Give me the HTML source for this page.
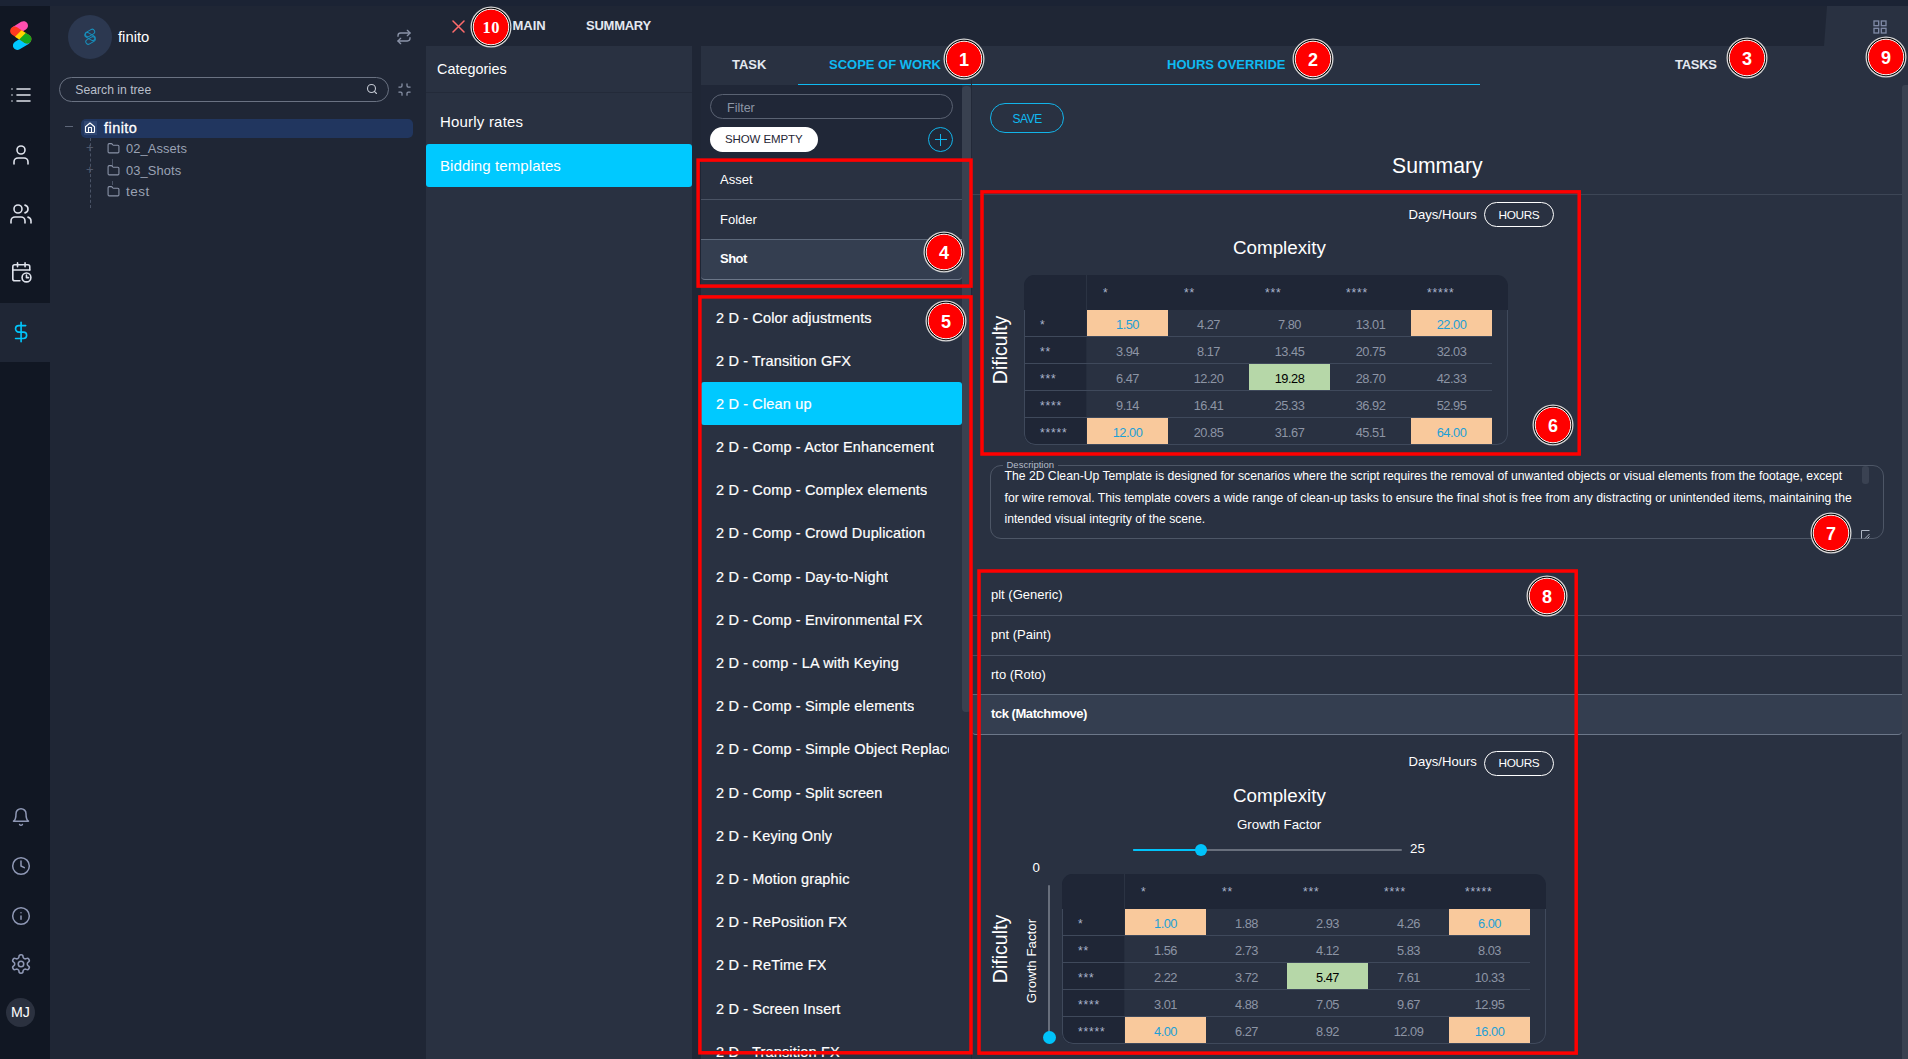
<!DOCTYPE html>
<html lang="en">
<head>
<meta charset="utf-8">
<title>Bidding templates</title>
<style>
*{box-sizing:border-box;margin:0;padding:0}
html,body{width:1908px;height:1059px;overflow:hidden;background:#1f2635;font-family:"Liberation Sans",sans-serif;color:#fff}
.abs{position:absolute}
#root{position:relative;width:1908px;height:1059px;overflow:hidden;background:#1f2635}
.topstrip{left:0;top:0;width:1908px;height:6px;background:#1b2334}
.sidebar{left:0;top:6px;width:50px;height:1053px;background:#111723}
.sideactive{left:0;top:303px;width:50px;height:59px;background:#1f2635}
.tree{left:50px;top:6px;width:376px;height:1053px;background:#1f2635}
.panel{background:#293141}
.t{position:absolute;white-space:nowrap;line-height:1}
.badge{position:absolute;width:41px;height:41px;border-radius:50%;border:1.3px solid #d9d9d9;padding:.9px;background:#000}
.badge i{display:block;width:36.6px;height:36.6px;border-radius:50%;border:1px solid #fff;background:#fe0000;font:bold 18px/36.5px "Liberation Sans",sans-serif;text-align:center;color:#fff;font-style:normal}
.redbox{position:absolute;border:3px solid #f00000}
.hline{position:absolute;height:1px;background:#3d4656}
</style>
</head>
<body>
<div id="root">
<div class="abs topstrip"></div>
<div class="abs sidebar"></div>
<div class="abs sideactive"></div>
<div class="abs tree"></div>


<svg width="0" height="0" style="position:absolute">
<defs>
<symbol id="i-list" viewBox="0 0 24 24"><path d="M8 6h13M8 12h13M8 18h13M3 6h.01M3 12h.01M3 18h.01"/></symbol>
<symbol id="i-user" viewBox="0 0 24 24"><path d="M19 21v-2a4 4 0 0 0-4-4H9a4 4 0 0 0-4 4v2"/><circle cx="12" cy="7" r="4"/></symbol>
<symbol id="i-users" viewBox="0 0 24 24"><path d="M16 21v-2a4 4 0 0 0-4-4H6a4 4 0 0 0-4 4v2"/><circle cx="9" cy="7" r="4"/><path d="M22 21v-2a4 4 0 0 0-3-3.87"/><path d="M16 3.13a4 4 0 0 1 0 7.75"/></symbol>
<symbol id="i-cal" viewBox="0 0 24 24"><path d="M21 9.5V6a2 2 0 0 0-2-2H5a2 2 0 0 0-2 2v13a2 2 0 0 0 2 2h5.5"/><path d="M16 2v4M8 2v4M3 9.5h18"/><circle cx="17.5" cy="17.5" r="4.7"/><path d="M17.5 15v2.7h2.2"/></symbol>
<symbol id="i-dollar" viewBox="0 0 24 24"><path d="M12 1.5v21"/><path d="M17 5H9.5a3.5 3.5 0 0 0 0 7h5a3.5 3.5 0 0 1 0 7H6"/></symbol>
<symbol id="i-bell" viewBox="0 0 24 24"><path d="M6 8a6 6 0 0 1 12 0c0 7 3 9 3 9H3s3-2 3-9"/><path d="M10.3 21a1.94 1.94 0 0 0 3.4 0"/></symbol>
<symbol id="i-clock" viewBox="0 0 24 24"><circle cx="12" cy="12" r="10"/><path d="M12 6v6l4 2"/></symbol>
<symbol id="i-info" viewBox="0 0 24 24"><circle cx="12" cy="12" r="10"/><path d="M12 16v-4M12 8h.01"/></symbol>
<symbol id="i-gear" viewBox="0 0 24 24"><path d="M12.22 2h-.44a2 2 0 0 0-2 2v.18a2 2 0 0 1-1 1.73l-.43.25a2 2 0 0 1-2 0l-.15-.08a2 2 0 0 0-2.73.73l-.22.38a2 2 0 0 0 .73 2.73l.15.1a2 2 0 0 1 1 1.72v.51a2 2 0 0 1-1 1.74l-.15.09a2 2 0 0 0-.73 2.73l.22.38a2 2 0 0 0 2.73.73l.15-.08a2 2 0 0 1 2 0l.43.25a2 2 0 0 1 1 1.73V20a2 2 0 0 0 2 2h.44a2 2 0 0 0 2-2v-.18a2 2 0 0 1 1-1.73l.43-.25a2 2 0 0 1 2 0l.15.08a2 2 0 0 0 2.73-.73l.22-.39a2 2 0 0 0-.73-2.73l-.15-.08a2 2 0 0 1-1-1.74v-.5a2 2 0 0 1 1-1.74l.15-.09a2 2 0 0 0 .73-2.73l-.22-.38a2 2 0 0 0-2.73-.73l-.15.08a2 2 0 0 1-2 0l-.43-.25a2 2 0 0 1-1-1.73V4a2 2 0 0 0-2-2z"/><circle cx="12" cy="12" r="3"/></symbol>
<symbol id="i-repeat" viewBox="0 0 24 24"><path d="m17 2 4 4-4 4"/><path d="M3 11v-1a4 4 0 0 1 4-4h14"/><path d="m7 22-4-4 4-4"/><path d="M21 13v1a4 4 0 0 1-4 4H3"/></symbol>
<symbol id="i-search" viewBox="0 0 24 24"><circle cx="11" cy="11" r="8"/><path d="m21 21-4.3-4.3"/></symbol>
<symbol id="i-min" viewBox="0 0 24 24"><path d="M8 3v3a2 2 0 0 1-2 2H3"/><path d="M21 8h-3a2 2 0 0 1-2-2V3"/><path d="M3 16h3a2 2 0 0 1 2 2v3"/><path d="M16 21v-3a2 2 0 0 1 2-2h3"/></symbol>
<symbol id="i-home" viewBox="0 0 24 24"><path d="M3 10.5 12 3l9 7.500V20a2 2 0 0 1-2 2H5a2 2 0 0 1-2-2z"/><path d="M9 22V12h6v10"/></symbol>
<symbol id="i-folder" viewBox="0 0 24 24"><path d="M20 20a2 2 0 0 0 2-2V8a2 2 0 0 0-2-2h-7.900a2 2 0 0 1-1.690-.9L9.600 3.900A2 2 0 0 0 7.930 3H4a2 2 0 0 0-2 2v13a2 2 0 0 0 2 2Z"/></symbol>
<symbol id="i-grid" viewBox="0 0 24 24"><rect x="3" y="3" width="7" height="7"/><rect x="14" y="3" width="7" height="7"/><rect x="14" y="14" width="7" height="7"/><rect x="3" y="14" width="7" height="7"/></symbol>
</defs>
</svg>
<style>
.ic{position:absolute;fill:none;stroke-linecap:round;stroke-linejoin:round}
</style>
<!-- logo -->
<svg class="abs" style="left:6px;top:18px" width="30" height="36" viewBox="6 18 30 36">
<g stroke-linecap="round" stroke-width="9" fill="none">
<path d="M15.5 30.600 L23.500 25.700" stroke="#ff4fb0"/>
<path d="M17.400 45.500 L26.300 40.200" stroke="#00c8ff"/>
<path d="M14.600 31 L27 39" stroke="#ff3a20"/>
</g>
<clipPath id="lgc"><path d="M14.600 31 L27 39" stroke="#000" stroke-width="9" stroke-linecap="round"/></clipPath>
<path d="M27 39 m-4.500 0 a4.500 4.500 0 1 0 9 0 a4.500 4.500 0 1 0 -9 0" fill="#14a81c"/>
<path d="M20.300 29.400 L29.400 35.200 L24.600 43.100 L15.500 37.300 Z" fill="#14a81c" opacity="0"/>
<g stroke-linecap="butt" stroke-width="9" fill="none">
<path d="M21.500 35.450 L27 39" stroke="#14a81c"/>
</g>
<path d="M19.300 28.900 L25.800 33 L19.600 39.700 L13.100 35.600 Z" fill="#ffd400" opacity="0"/>
<path d="M21.500 30.200 L25.700 32.900 L19.200 39.400 L15 36.700 Z" fill="#ffd400"/>
</svg>
<svg class="ic" style="left:9px;top:82.5px;stroke:#dfe3ec;stroke-width:1.6" width="24" height="24"><use href="#i-list"/></svg>
<svg class="ic" style="left:9px;top:143px;stroke:#dfe3ec;stroke-width:1.6" width="24" height="24"><use href="#i-user"/></svg>
<svg class="ic" style="left:8.6px;top:202px;stroke:#dfe3ec;stroke-width:1.6" width="24" height="24"><use href="#i-users"/></svg>
<svg class="ic" style="left:9.7px;top:261.3px;stroke:#dfe3ec;stroke-width:1.7" width="22.6" height="22.6"><use href="#i-cal"/></svg>
<svg class="ic" style="left:9.6px;top:321.4px;stroke:#00c6fc;stroke-width:1.75" width="22.2" height="22.2"><use href="#i-dollar"/></svg>
<svg class="ic" style="left:10.5px;top:807.2px;stroke:#8f98b5;stroke-width:1.8" width="20" height="20"><use href="#i-bell"/></svg>
<svg class="ic" style="left:10.7px;top:855.6px;stroke:#8f98b5;stroke-width:1.8" width="20" height="20"><use href="#i-clock"/></svg>
<svg class="ic" style="left:10.7px;top:905.7px;stroke:#8f98b5;stroke-width:1.8" width="20" height="20"><use href="#i-info"/></svg>
<svg class="ic" style="left:9.7px;top:953.4px;stroke:#8f98b5;stroke-width:1.7" width="22" height="22"><use href="#i-gear"/></svg>
<div class="abs" style="left:6px;top:998px;width:29px;height:29px;border-radius:50%;background:#2b313f"></div>
<div class="t" style="left:11px;top:1005px;font-size:14.2px;color:#fff">MJ</div>


<div class="abs" style="left:68px;top:14.5px;width:44px;height:44px;border-radius:50%;background:#2c3850"></div>
<svg class="abs" style="left:82px;top:28px" width="16" height="17" viewBox="0 0 16 17" fill="none" stroke="#1790bd" stroke-width="1">
<rect x="3" y="2.5" width="10" height="5" rx="2.5" transform="rotate(-30 8 5)"/>
<rect x="2.500" y="6" width="11" height="5" rx="2.500" transform="rotate(30 8 8.500)"/>
<rect x="3.500" y="10" width="10" height="5" rx="2.500" transform="rotate(-30 8.500 12.500)"/>
</svg>
<div class="t" style="left:118px;top:29.5px;font-size:14.8px;color:#fff">finito</div>
<svg class="ic" style="left:396px;top:29px;stroke:#8a93a8;stroke-width:2" width="16" height="16"><use href="#i-repeat"/></svg>
<div class="abs" style="left:59px;top:77px;width:330px;height:25px;border:1px solid #6a7282;border-radius:13px"></div>
<div class="t" style="left:75.3px;top:84px;font-size:12.2px;color:#b9bfca">Search in tree</div>
<svg class="ic" style="left:366px;top:83px;stroke:#c3c8d2;stroke-width:2.2" width="12" height="12"><use href="#i-search"/></svg>
<svg class="ic" style="left:397px;top:82px;stroke:#8a93a8;stroke-width:2" width="15" height="15"><use href="#i-min"/></svg>
<!-- tree rows -->
<div class="abs" style="left:81px;top:119px;width:332px;height:19px;border-radius:5px;background:#21365f"></div>
<div class="abs" style="left:84px;top:121px;width:13px;height:14px;background:#2f4672"></div>
<div class="abs" style="left:65px;top:126px;width:8px;height:1px;background:#5d6678"></div>
<svg class="ic" style="left:84px;top:121px;stroke:#fff;stroke-width:2.2" width="12" height="13"><use href="#i-home"/></svg>
<div class="t" style="left:104px;top:120.5px;font-size:14.5px;color:#fff;letter-spacing:.45px;-webkit-text-stroke:.3px #fff">finito</div>
<div class="abs" style="left:90px;top:138px;width:0;height:70px;border-left:1px dashed #4a5366"></div>
<div class="abs" style="left:112px;top:159px;width:0;height:8px;border-left:1px solid #4a5366"></div>
<div class="abs" style="left:112px;top:181px;width:0;height:4px;border-left:1px solid #4a5366"></div>
<div class="t" style="left:86px;top:141px;font-size:13px;color:#4f586b">+</div>
<div class="t" style="left:86px;top:163px;font-size:13px;color:#4f586b">+</div>
<svg class="ic" style="left:107px;top:142px;stroke:#8a93a8;stroke-width:2" width="13" height="13"><use href="#i-folder"/></svg>
<svg class="ic" style="left:107px;top:164px;stroke:#8a93a8;stroke-width:2" width="13" height="13"><use href="#i-folder"/></svg>
<svg class="ic" style="left:107px;top:185px;stroke:#8a93a8;stroke-width:2" width="13" height="13"><use href="#i-folder"/></svg>
<div class="t" style="left:126px;top:142.7px;font-size:12.9px;color:#9aa2b4;letter-spacing:.1px">02_Assets</div>
<div class="t" style="left:126px;top:164.5px;font-size:12.9px;color:#9aa2b4;letter-spacing:.1px">03_Shots</div>
<div class="t" style="left:126px;top:185px;font-size:13.5px;color:#9aa2b4;letter-spacing:.5px">test</div>


<svg class="abs" style="left:452px;top:20px" width="13" height="13" viewBox="0 0 13 13" fill="none" stroke="#ff6b6b" stroke-width="1.5" stroke-linecap="round"><path d="M1 1 L12 12 M12 1 L1 12"/></svg>
<div class="t" style="left:512.5px;top:19px;font-size:13px;font-weight:bold;color:#e4e8f0">MAIN</div>
<div class="t" style="left:586px;top:19px;font-size:13px;font-weight:bold;letter-spacing:-.25px;color:#e4e8f0">SUMMARY</div>
<svg class="abs" style="left:1820px;top:6px" width="88" height="40"><polygon points="7,0 88,0 88,40 4,40" fill="#293141"/></svg>
<svg class="ic" style="left:1872px;top:19px;stroke:#7f89a6;stroke-width:2;stroke-linejoin:miter" width="16" height="16"><use href="#i-grid"/></svg>


<div class="abs panel" style="left:426px;top:46px;width:266px;height:1013px"></div>
<div class="t" style="left:437px;top:61.5px;font-size:14.4px;color:#fff">Categories</div>
<div class="hline" style="left:426px;top:92px;width:266px;background:#232a39"></div>
<div class="t" style="left:440px;top:114px;font-size:15px;color:#fff;letter-spacing:.2px">Hourly rates</div>
<div class="abs" style="left:426px;top:144px;width:266px;height:43px;border-radius:3px;background:#00c9ff"></div>
<div class="t" style="left:440px;top:158px;font-size:15px;color:#fff;letter-spacing:.1px">Bidding templates</div>


<style>.li{left:716px;font-size:14.5px;color:#fff;-webkit-text-stroke:.2px #fff;max-width:233px;overflow:hidden;letter-spacing:.15px;height:17px;line-height:17px}</style>
<div class="abs panel" style="left:701px;top:46px;width:1207px;height:1013px"></div>
<div class="abs" style="left:701px;top:85px;width:261px;height:75px;background:#202737"></div>
<div class="t" style="left:732px;top:58px;font-size:13px;font-weight:bold;color:#e4e8f0">TASK</div>
<div class="t" style="left:829px;top:58px;font-size:13px;font-weight:bold;color:#0fbaf2">SCOPE OF WORK</div>
<div class="t" style="left:1167px;top:58px;font-size:13px;font-weight:bold;color:#0fbaf2">HOURS OVERRIDE</div>
<div class="t" style="left:1675px;top:58px;font-size:13px;font-weight:bold;letter-spacing:-.3px;color:#e4e8f0">TASKS</div>
<div class="abs" style="left:798px;top:84px;width:682px;height:1px;background:#0fbaf2"></div>
<div class="abs" style="left:710px;top:94px;width:243px;height:25px;border:1px solid #5a6272;border-radius:13px"></div>
<div class="t" style="left:727px;top:102px;font-size:12.5px;color:#8d96a6">Filter</div>
<div class="abs" style="left:710px;top:127px;width:108px;height:25px;border-radius:13px;background:#fff"></div>
<div class="t" style="left:725px;top:134.2px;font-size:11.5px;color:#1f2635;letter-spacing:-.1px">SHOW EMPTY</div>
<div class="abs" style="left:928px;top:127px;width:25px;height:25px;border-radius:50%;border:1px solid #12b4ea"></div>
<div class="abs" style="left:934.500px;top:139px;width:12px;height:1.300px;background:#12b4ea"></div>
<div class="abs" style="left:939.800px;top:133.500px;width:1.300px;height:12px;background:#12b4ea"></div>
<!-- scrollbar mid -->
<div class="abs" style="left:962px;top:85.5px;width:9px;height:626px;background:#394150;border-radius:4px"></div>
<div class="abs" style="left:971px;top:79px;width:1px;height:980px;background:#222938"></div>
<!-- Asset/Folder/Shot -->
<div class="abs" style="left:701px;top:239px;width:261px;height:41px;background:#343e50;border-bottom:1px solid #6b7688;border-radius:0 0 4px 4px"></div>
<div class="hline" style="left:701px;top:199px;width:261px;background:#4a5364"></div>
<div class="hline" style="left:701px;top:239px;width:261px;background:#5d697b"></div>

<div class="t" style="left:720px;top:173px;font-size:13px;color:#fff">Asset</div>
<div class="t" style="left:720px;top:213px;font-size:13px;color:#fff">Folder</div>
<div class="t" style="left:720px;top:251.500px;font-size:13px;color:#fff;font-weight:bold;letter-spacing:-.5px">Shot</div>
<div class="abs" style="left:701px;top:382px;width:261px;height:43px;border-radius:3px;background:#00c9ff"></div>
<div class="t li" style="top:310px">2 D - Color adjustments</div>
<div class="t li" style="top:353px">2 D - Transition GFX</div>
<div class="t li" style="top:396px">2 D - Clean up</div>
<div class="t li" style="top:439px">2 D - Comp - Actor Enhancement</div>
<div class="t li" style="top:482px">2 D - Comp - Complex elements</div>
<div class="t li" style="top:525px">2 D - Comp - Crowd Duplication</div>
<div class="t li" style="top:569px">2 D - Comp - Day-to-Night</div>
<div class="t li" style="top:612px">2 D - Comp - Environmental FX</div>
<div class="t li" style="top:655px">2 D - comp - LA with Keying</div>
<div class="t li" style="top:698px">2 D - Comp - Simple elements</div>
<div class="t li" style="top:741px">2 D - Comp - Simple Object Replace</div>
<div class="t li" style="top:785px">2 D - Comp - Split screen</div>
<div class="t li" style="top:828px">2 D - Keying Only</div>
<div class="t li" style="top:871px">2 D - Motion graphic</div>
<div class="t li" style="top:914px">2 D - RePosition FX</div>
<div class="t li" style="top:957px">2 D - ReTime FX</div>
<div class="t li" style="top:1001px">2 D - Screen Insert</div>
<div class="t li" style="top:1044px">2 D - Transition FX</div>



<style>
.tb{border-radius:11px;overflow:hidden}
.st{font-size:12px;color:#aab4cc;letter-spacing:.8px}
.cv{width:81px;height:26px;line-height:29.5px;text-align:center;font-size:12.8px;color:#8d95a5;letter-spacing:-.5px}
.cv.or{background:#f9c99c;color:#1e9fd6}
.cv.gr{background:#b6d7a8;color:#000}
.vt{position:absolute;white-space:nowrap;transform:translate(-50%,-50%) rotate(-90deg);line-height:1}
.row{left:991px;font-size:13px;color:#fff}
</style>
<div class="abs" style="left:990px;top:103px;width:74px;height:30px;border:1px solid #12b4ea;border-radius:15px"></div>
<div class="t" style="left:1012.5px;top:113px;font-size:12px;color:#0fbaf2;letter-spacing:-.45px">SAVE</div>
<div class="t" style="left:1392px;top:154.7px;font-size:21.2px;color:#fff">Summary</div>
<div class="hline" style="left:972px;top:194px;width:930px"></div>
<!-- section 1 -->
<div class="t" style="left:1408.5px;top:207.8px;font-size:13.1px;color:#fff">Days/Hours</div>
<div class="abs" style="left:1484px;top:202px;width:70px;height:25px;border:1px solid #fff;border-radius:13px"></div>
<div class="t" style="left:1498.5px;top:210px;font-size:11.8px;color:#fff;letter-spacing:-.35px">HOURS</div>
<div class="t" style="left:1233px;top:238.5px;font-size:18.8px;color:#fff">Complexity</div>
<div class="vt" style="left:1000.5px;top:350px;font-size:19.5px">Dificulty</div>
<div class="abs tb" style="left:1024px;top:275px;width:484px;height:170px"><div class="abs" style="left:0;top:0;width:484px;height:35px;background:#1f2636"></div><div class="abs" style="left:0;top:0;width:62px;height:170px;background:#1f2636"></div><div class="abs" style="left:62px;top:0;width:1px;height:35px;background:#2b3343"></div><div class="abs" style="left:62px;top:35px;width:1px;height:135px;background:#252d3d"></div><div class="abs" style="left:0;top:34.5px;width:484px;height:135.5px;border:1px solid #3f495b;border-top:none;border-radius:0 0 11px 11px"></div><div class="t st" style="left:79px;top:11.5px">*</div><div class="t st" style="left:16px;top:43.5px">*</div><div class="t st" style="left:160px;top:11.5px">**</div><div class="t st" style="left:16px;top:70.5px">**</div><div class="t st" style="left:241px;top:11.5px">***</div><div class="t st" style="left:16px;top:97.5px">***</div><div class="t st" style="left:322px;top:11.5px">****</div><div class="t st" style="left:16px;top:124.5px">****</div><div class="t st" style="left:403px;top:11.5px">*****</div><div class="t st" style="left:16px;top:151.5px">*****</div><div class="abs" style="left:1px;top:61px;width:467px;height:1px;background:#3f495b"></div><div class="abs cv or" style="left:63px;top:35px">1.50</div><div class="abs cv" style="left:144px;top:35px">4.27</div><div class="abs cv" style="left:225px;top:35px">7.80</div><div class="abs cv" style="left:306px;top:35px">13.01</div><div class="abs cv or" style="left:387px;top:35px">22.00</div><div class="abs" style="left:1px;top:88px;width:467px;height:1px;background:#3f495b"></div><div class="abs cv" style="left:63px;top:62px">3.94</div><div class="abs cv" style="left:144px;top:62px">8.17</div><div class="abs cv" style="left:225px;top:62px">13.45</div><div class="abs cv" style="left:306px;top:62px">20.75</div><div class="abs cv" style="left:387px;top:62px">32.03</div><div class="abs" style="left:1px;top:115px;width:467px;height:1px;background:#3f495b"></div><div class="abs cv" style="left:63px;top:89px">6.47</div><div class="abs cv" style="left:144px;top:89px">12.20</div><div class="abs cv gr" style="left:225px;top:89px">19.28</div><div class="abs cv" style="left:306px;top:89px">28.70</div><div class="abs cv" style="left:387px;top:89px">42.33</div><div class="abs" style="left:1px;top:142px;width:467px;height:1px;background:#3f495b"></div><div class="abs cv" style="left:63px;top:116px">9.14</div><div class="abs cv" style="left:144px;top:116px">16.41</div><div class="abs cv" style="left:225px;top:116px">25.33</div><div class="abs cv" style="left:306px;top:116px">36.92</div><div class="abs cv" style="left:387px;top:116px">52.95</div><div class="abs cv or" style="left:63px;top:143px">12.00</div><div class="abs cv" style="left:144px;top:143px">20.85</div><div class="abs cv" style="left:225px;top:143px">31.67</div><div class="abs cv" style="left:306px;top:143px">45.51</div><div class="abs cv or" style="left:387px;top:143px">64.00</div></div>
<!-- description -->
<div class="abs" style="left:990px;top:465px;width:893.5px;height:74px;border:1px solid #4d5666;border-radius:11px"></div>
<div class="abs" style="left:1003px;top:460px;width:55px;height:10px;background:#293141"></div>
<div class="t" style="left:1006.5px;top:460px;font-size:9.5px;color:#b4bcca">Description</div>
<div class="abs" style="left:1004.5px;top:466px;width:870px;font-size:12.2px;line-height:21.5px;color:#fff;white-space:nowrap">The 2D Clean-Up Template is designed for scenarios where the script requires the removal of unwanted objects or visual elements from the footage, except<br>for wire removal. This template covers a wide range of clean-up tasks to ensure the final shot is free from any distracting or unintended items, maintaining the<br>intended visual integrity of the scene.</div>
<div class="abs" style="left:1862px;top:466px;width:7px;height:18px;border-radius:3px;background:#3a4252"></div>
<svg class="abs" style="left:1861px;top:530px" width="9" height="9" fill="none" stroke="#aeb6c4" stroke-width="1"><path d="M8.5 .5H.5V8.5"/><path d="M4 8.5 8.5 4M6.5 8.5 8.5 6.5"/></svg>
<!-- rows -->
<div class="abs" style="left:972px;top:694px;width:930px;height:41px;background:#343e50;border-top:1px solid #5f6b7d;border-bottom:1px solid #6c7789;border-radius:0 0 4px 4px"></div>
<div class="hline" style="left:972px;top:615px;width:930px;background:#485162"></div>
<div class="hline" style="left:972px;top:654.5px;width:930px;background:#485162"></div>
<div class="t row" style="top:588px">plt (Generic)</div>
<div class="t row" style="top:628px">pnt (Paint)</div>
<div class="t row" style="top:667.5px">rto (Roto)</div>
<div class="t row" style="top:707px;font-weight:bold;letter-spacing:-.45px">tck (Matchmove)</div>
<!-- section 2 -->
<div class="t" style="left:1408.5px;top:755.3px;font-size:13.1px;color:#fff">Days/Hours</div>
<div class="abs" style="left:1484px;top:750.5px;width:70px;height:25px;border:1px solid #fff;border-radius:13px"></div>
<div class="t" style="left:1498.5px;top:757.8px;font-size:11.8px;color:#fff;letter-spacing:-.35px">HOURS</div>
<div class="t" style="left:1233px;top:786.5px;font-size:18.8px;color:#fff">Complexity</div>
<div class="t" style="left:1237px;top:817.5px;font-size:13.3px;color:#fff">Growth Factor</div>
<div class="abs" style="left:1133px;top:849px;width:269px;height:2px;border-radius:1px;background:#686f7c"></div>
<div class="abs" style="left:1133px;top:849px;width:68px;height:2px;border-radius:1px;background:#00c3fa"></div>
<div class="abs" style="left:1194.7px;top:843.7px;width:12.6px;height:12.6px;border-radius:50%;background:#00c3fa"></div>
<div class="t" style="left:1410px;top:842.3px;font-size:13.3px;color:#fff">25</div>
<div class="t" style="left:1032.5px;top:861.3px;font-size:13.3px;color:#fff">0</div>
<div class="abs" style="left:1048px;top:885px;width:2px;height:152px;border-radius:1px;background:#686f7c"></div>
<div class="abs" style="left:1042.5px;top:1031.3px;width:13px;height:13px;border-radius:50%;background:#00c3fa"></div>
<div class="vt" style="left:1000.5px;top:948.5px;font-size:19.5px">Dificulty</div>
<div class="vt" style="left:1032px;top:960.5px;font-size:13.3px">Growth Factor</div>
<div class="abs tb" style="left:1062px;top:874px;width:484px;height:170px"><div class="abs" style="left:0;top:0;width:484px;height:35px;background:#1f2636"></div><div class="abs" style="left:0;top:0;width:62px;height:170px;background:#1f2636"></div><div class="abs" style="left:62px;top:0;width:1px;height:35px;background:#2b3343"></div><div class="abs" style="left:62px;top:35px;width:1px;height:135px;background:#252d3d"></div><div class="abs" style="left:0;top:34.5px;width:484px;height:135.5px;border:1px solid #3f495b;border-top:none;border-radius:0 0 11px 11px"></div><div class="t st" style="left:79px;top:11.5px">*</div><div class="t st" style="left:16px;top:43.5px">*</div><div class="t st" style="left:160px;top:11.5px">**</div><div class="t st" style="left:16px;top:70.5px">**</div><div class="t st" style="left:241px;top:11.5px">***</div><div class="t st" style="left:16px;top:97.5px">***</div><div class="t st" style="left:322px;top:11.5px">****</div><div class="t st" style="left:16px;top:124.5px">****</div><div class="t st" style="left:403px;top:11.5px">*****</div><div class="t st" style="left:16px;top:151.5px">*****</div><div class="abs" style="left:1px;top:61px;width:467px;height:1px;background:#3f495b"></div><div class="abs cv or" style="left:63px;top:35px">1.00</div><div class="abs cv" style="left:144px;top:35px">1.88</div><div class="abs cv" style="left:225px;top:35px">2.93</div><div class="abs cv" style="left:306px;top:35px">4.26</div><div class="abs cv or" style="left:387px;top:35px">6.00</div><div class="abs" style="left:1px;top:88px;width:467px;height:1px;background:#3f495b"></div><div class="abs cv" style="left:63px;top:62px">1.56</div><div class="abs cv" style="left:144px;top:62px">2.73</div><div class="abs cv" style="left:225px;top:62px">4.12</div><div class="abs cv" style="left:306px;top:62px">5.83</div><div class="abs cv" style="left:387px;top:62px">8.03</div><div class="abs" style="left:1px;top:115px;width:467px;height:1px;background:#3f495b"></div><div class="abs cv" style="left:63px;top:89px">2.22</div><div class="abs cv" style="left:144px;top:89px">3.72</div><div class="abs cv gr" style="left:225px;top:89px">5.47</div><div class="abs cv" style="left:306px;top:89px">7.61</div><div class="abs cv" style="left:387px;top:89px">10.33</div><div class="abs" style="left:1px;top:142px;width:467px;height:1px;background:#3f495b"></div><div class="abs cv" style="left:63px;top:116px">3.01</div><div class="abs cv" style="left:144px;top:116px">4.88</div><div class="abs cv" style="left:225px;top:116px">7.05</div><div class="abs cv" style="left:306px;top:116px">9.67</div><div class="abs cv" style="left:387px;top:116px">12.95</div><div class="abs cv or" style="left:63px;top:143px">4.00</div><div class="abs cv" style="left:144px;top:143px">6.27</div><div class="abs cv" style="left:225px;top:143px">8.92</div><div class="abs cv" style="left:306px;top:143px">12.09</div><div class="abs cv or" style="left:387px;top:143px">16.00</div></div>
<!-- right scrollbar -->
<div class="abs" style="left:1902px;top:85px;width:6px;height:974px;background:#394150;border-radius:3px 0 0 0"></div>
<svg class="abs" style="left:469.9px;top:5.7px" width="42" height="42"><circle cx="21" cy="21" r="19.85" fill="#000" stroke="#d6d6d6" stroke-width="1.3"/><circle cx="21" cy="21" r="17.8" fill="#ff0000" stroke="#fff" stroke-width="1"/><text x="21.2" y="27.2" text-anchor="middle" fill="#fff" style="font:bold 16.5px 'Liberation Serif',serif;letter-spacing:.4px">10</text></svg>
<svg class="abs" style="left:943.05px;top:37.9px" width="42" height="42"><circle cx="21" cy="21" r="19.85" fill="#000" stroke="#d6d6d6" stroke-width="1.3"/><circle cx="21" cy="21" r="17.8" fill="#ff0000" stroke="#fff" stroke-width="1"/><text x="21" y="27.6" text-anchor="middle" fill="#fff" style="font:bold 18px 'Liberation Sans',sans-serif">1</text></svg>
<svg class="abs" style="left:1292.05px;top:37.9px" width="42" height="42"><circle cx="21" cy="21" r="19.85" fill="#000" stroke="#d6d6d6" stroke-width="1.3"/><circle cx="21" cy="21" r="17.8" fill="#ff0000" stroke="#fff" stroke-width="1"/><text x="21" y="27.6" text-anchor="middle" fill="#fff" style="font:bold 18px 'Liberation Sans',sans-serif">2</text></svg>
<svg class="abs" style="left:1725.9px;top:37.05px" width="42" height="42"><circle cx="21" cy="21" r="19.85" fill="#000" stroke="#d6d6d6" stroke-width="1.3"/><circle cx="21" cy="21" r="17.8" fill="#ff0000" stroke="#fff" stroke-width="1"/><text x="21" y="27.6" text-anchor="middle" fill="#fff" style="font:bold 18px 'Liberation Sans',sans-serif">3</text></svg>
<svg class="abs" style="left:1864.8px;top:36.1px" width="42" height="42"><circle cx="21" cy="21" r="19.85" fill="#000" stroke="#d6d6d6" stroke-width="1.3"/><circle cx="21" cy="21" r="17.8" fill="#ff0000" stroke="#fff" stroke-width="1"/><text x="21" y="27.6" text-anchor="middle" fill="#fff" style="font:bold 18px 'Liberation Sans',sans-serif">9</text></svg>
<svg class="abs" style="left:922.95px;top:230.9px" width="42" height="42"><circle cx="21" cy="21" r="19.85" fill="#000" stroke="#d6d6d6" stroke-width="1.3"/><circle cx="21" cy="21" r="17.8" fill="#ff0000" stroke="#fff" stroke-width="1"/><text x="21" y="27.6" text-anchor="middle" fill="#fff" style="font:bold 18px 'Liberation Sans',sans-serif">4</text></svg>
<svg class="abs" style="left:924.8px;top:299.9px" width="42" height="42"><circle cx="21" cy="21" r="19.85" fill="#000" stroke="#d6d6d6" stroke-width="1.3"/><circle cx="21" cy="21" r="17.8" fill="#ff0000" stroke="#fff" stroke-width="1"/><text x="21" y="27.6" text-anchor="middle" fill="#fff" style="font:bold 18px 'Liberation Sans',sans-serif">5</text></svg>
<svg class="abs" style="left:1531.9px;top:404.3px" width="42" height="42"><circle cx="21" cy="21" r="19.85" fill="#000" stroke="#d6d6d6" stroke-width="1.3"/><circle cx="21" cy="21" r="17.8" fill="#ff0000" stroke="#fff" stroke-width="1"/><text x="21" y="27.6" text-anchor="middle" fill="#fff" style="font:bold 18px 'Liberation Sans',sans-serif">6</text></svg>
<svg class="abs" style="left:1810.1px;top:511.9px" width="42" height="42"><circle cx="21" cy="21" r="19.85" fill="#000" stroke="#d6d6d6" stroke-width="1.3"/><circle cx="21" cy="21" r="17.8" fill="#ff0000" stroke="#fff" stroke-width="1"/><text x="21" y="27.6" text-anchor="middle" fill="#fff" style="font:bold 18px 'Liberation Sans',sans-serif">7</text></svg>
<svg class="abs" style="left:1526.1px;top:575px" width="42" height="42"><circle cx="21" cy="21" r="19.85" fill="#000" stroke="#d6d6d6" stroke-width="1.3"/><circle cx="21" cy="21" r="17.8" fill="#ff0000" stroke="#fff" stroke-width="1"/><text x="21" y="27.6" text-anchor="middle" fill="#fff" style="font:bold 18px 'Liberation Sans',sans-serif">8</text></svg>
<svg class="abs" style="left:0;top:0;pointer-events:none" width="1908" height="1059" fill="none" stroke="#ff0000" stroke-width="3.5"><rect x="698.1" y="160.1" width="272.9" height="126"/><rect x="699.9" y="296.9" width="271.1" height="755.9"/><rect x="982" y="191.85" width="597.2" height="262.15"/><rect x="979" y="571" width="597.2" height="482.1"/></svg>
</div>
</body>
</html>
